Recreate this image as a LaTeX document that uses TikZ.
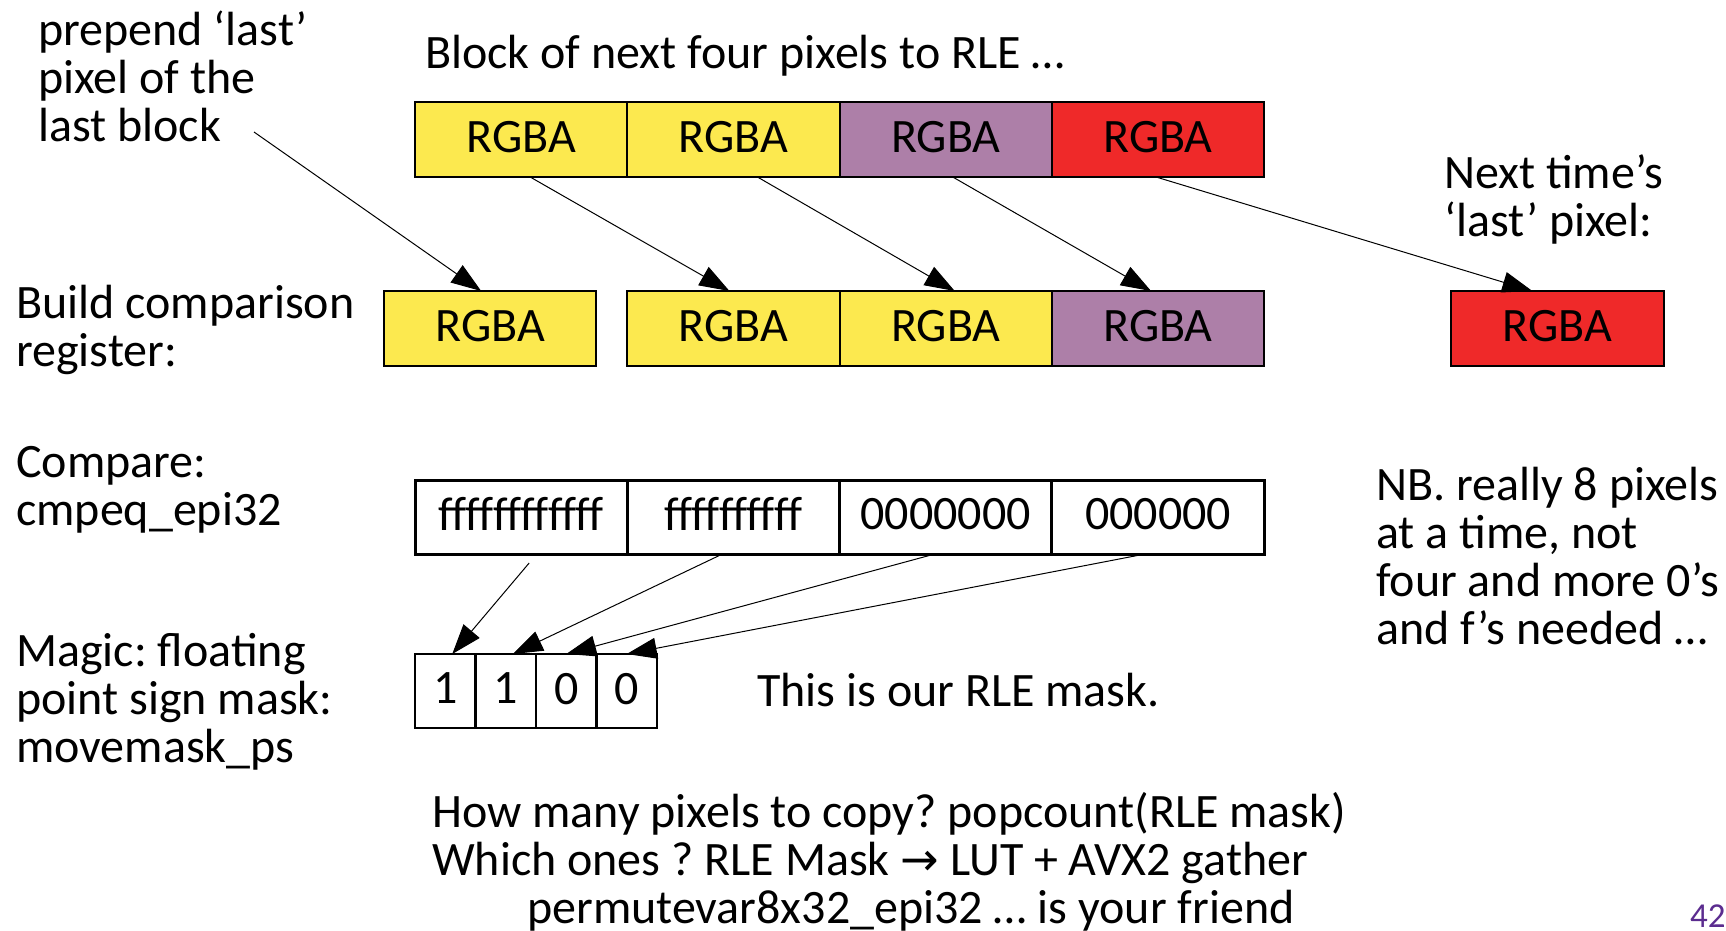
\documentclass[tikz,border=0pt]{standalone}
\usepackage{fontspec}
\setmainfont{Carlito}
\newfontfamily\arrowfont{DejaVu Sans}
\usepackage{tikz}
\usetikzlibrary{arrows.meta,positioning}
\usepackage{xcolor}
\definecolor{butter}{HTML}{FCE94F}
\definecolor{plum}{HTML}{AD7FA8}
\definecolor{scarlet}{HTML}{EF2929}
\definecolor{slidenum}{HTML}{5B2C8F}
\frenchspacing

\begin{document}
\begin{tikzpicture}[
      x=1pt, y=-1pt,
      pixel/.style={
        draw=black, line width=2pt, minimum width=212.3pt, minimum height=75pt,
        inner sep=0pt, outer sep=0pt, text depth=6pt, font=\fontsize{48}{48}\selectfont
      },
      cell/.style={
        draw=black, line width=3pt, minimum width=212.3pt, minimum height=74pt,
        inner sep=0pt, outer sep=0pt, text depth=6pt, font=\fontsize{48}{48}\selectfont
      },
      bit/.style={
        draw=black, line width=2.5pt, minimum width=60.5pt, minimum height=74pt,
        inner sep=0pt, outer sep=0pt, text depth=5pt, font=\fontsize{48}{48}\selectfont
      },
      note/.style={
        align=left, anchor=base west, inner sep=0pt,
        font=\fontsize{48}{48}\selectfont
      },
      rel/.style={-{Triangle[length=30pt,width=21pt]}, line width=1pt}
    ]
    \useasboundingbox (0,0) rectangle (1726,930);

    \node[pixel, fill=butter, anchor=north west] (in1) at (415,102) {RGBA};
    \node[pixel, fill=butter, right=0pt of in1] (in2) {RGBA};
    \node[pixel, fill=plum, right=0pt of in2] (in3) {RGBA};
    \node[pixel, fill=scarlet, right=0pt of in3] (in4) {RGBA};

    \node[pixel, fill=butter, anchor=north west] (cmp0) at (384,291) {RGBA};
    \node[pixel, fill=butter, below=114pt of in2] (cmp1) {RGBA};
    \node[pixel, fill=butter, right=0pt of cmp1] (cmp2) {RGBA};
    \node[pixel, fill=plum, right=0pt of cmp2] (cmp3) {RGBA};
    \node[pixel, fill=scarlet, right=187pt of cmp3] (next) {RGBA};

    \node[cell, anchor=north west] (eq1) at (415,480) {ffffffffffff};
    \node[cell, right=0pt of eq1] (eq2) {ffffffffff};
    \node[cell, right=0pt of eq2] (eq3) {0000000};
    \node[cell, right=0pt of eq3] (eq4) {000000};

    \node[bit, anchor=north west] (bit1) at (415,654) {1};
    \node[bit, right=0pt of bit1] (bit2) {1};
    \node[bit, right=0pt of bit2] (bit3) {0};
    \node[bit, right=0pt of bit3] (bit4) {0};

    \node[note] (prepend) at (38,141) {prepend ‘last’\\pixel of the\\last block};
    \node[note] (blocktxt) at (425,68) {Block of next four pixels to RLE …};
    \node[note] (buildtxt) at (16,366) {Build comparison\\register:};
    \node[note] (cmptxt) at (16,525) {Compare:\\cmpeq\_epi32};
    \node[note] (magictxt) at (16,762) {Magic: floating\\point sign mask:\\movemask\_ps};
    \node[note] (masktxt) at (757,706) {This is our RLE mask.};
    \node[note] (nexttxt) at (1444,236) {Next time’s\\‘last’ pixel:};
    \node[note] (nbtxt) at (1376,644) {NB. really 8 pixels\\at a time, not\\four and more 0’s\\and f’s needed …};
    \node[note] (howtxt) at (432,923) {How many pixels to copy? popcount(RLE mask)\\
      Which ones ? RLE Mask {\arrowfont\fontsize{46}{48}\selectfont →} LUT + AVX2 gather\\
      \hspace*{95pt}permutevar8x32\_epi32 … is your friend};
    \node[note, text=slidenum, font=\fontsize{35}{36}\selectfont] (pagenum) at (1690,927) {42};

    \coordinate (lastpx) at (254,132);
    \draw[rel] (lastpx) -- ([xshift=-9pt]cmp0.north);
    \draw[rel] ([xshift=9pt]in1.south) -- ([xshift=-4pt]cmp1.north);
    \draw[rel] ([xshift=24pt]in2.south) -- ([xshift=9pt]cmp2.north);
    \draw[rel] ([xshift=7pt]in3.south) -- ([xshift=-7pt]cmp3.north);
    \draw[rel] ([xshift=-2pt]in4.south) -- ([xshift=-25pt]next.north);

    \draw[rel] ([xshift=8pt,yshift=-9pt]eq1.south) -- ([xshift=7pt]bit1.north);
    \draw[rel] ([xshift=-11pt]eq2.south) -- ([xshift=7pt]bit2.north);
    \draw[rel] ([xshift=-11pt]eq3.south) -- (bit3.north);
    \draw[rel] ([xshift=-13pt]eq4.south) -- (bit4.north);
  \end{tikzpicture}
\end{document}
